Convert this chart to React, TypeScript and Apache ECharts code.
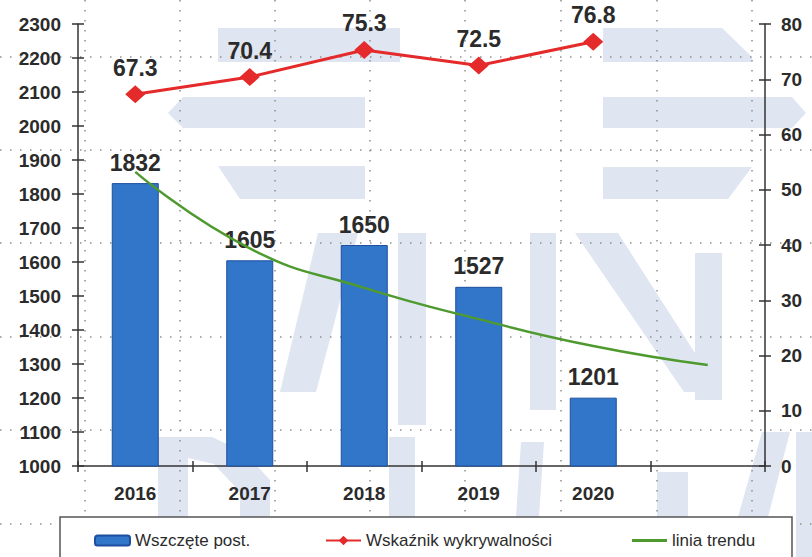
import React, { useEffect, useRef } from 'react';
import * as echarts from 'echarts';

// ---- data ----
const years = ['2016', '2017', '2018', '2019', '2020', ''];
const cases = [1832, 1605, 1650, 1527, 1201];
const detectionRate = [67.3, 70.4, 75.3, 72.5, 76.8];
const trendLine = [1865, 1640, 1524, 1432, 1353, 1297];
const seriesNames = ['Wszczęte post.', 'Wskaźnik wykrywalności', 'linia trendu'];

const FONT = '"Liberation Sans", Arial, sans-serif';
const TEXT = '#2b2b2b';
const AXIS = '#333333';

// decorative watermark shapes (background)
const watermark: number[][][] = [
  [[218, 28], [400, 28], [400, 62], [218, 62]],
  [[603, 28], [722, 28], [752, 57], [752, 62], [603, 62]],
  [[168, 113], [183, 97], [365, 97], [365, 128], [183, 128]],
  [[603, 97], [792, 97], [806, 113], [792, 128], [603, 128]],
  [[218, 166], [365, 166], [365, 199], [240, 199]],
  [[603, 167], [752, 167], [728, 199], [603, 199]],
  [[318, 233], [358, 233], [316, 392], [280, 392]],
  [[398, 233], [426, 233], [426, 425], [398, 425]],
  [[530, 233], [556, 233], [556, 410], [530, 410]],
  [[575, 233], [618, 233], [720, 392], [684, 392]],
  [[695, 253], [722, 253], [722, 400], [695, 400]],
  [[158, 437], [212, 437], [244, 452], [270, 480], [270, 517], [240, 517], [240, 492], [214, 464], [188, 458], [188, 517], [158, 517]],
  [[389, 437], [415, 437], [415, 517], [389, 517]],
  [[521, 442], [544, 442], [539, 517], [516, 517]],
  [[657, 472], [688, 472], [688, 517], [657, 517]],
  [[762, 432], [790, 432], [768, 517], [738, 517]],
  [[796, 432], [812, 432], [812, 557], [796, 557]],
];
const bgGridX = [85, 180, 275, 370, 465, 561, 657, 752];
const bgGridY = [57, 150, 243, 337, 430, 524];

export default function App() {
  const ref = useRef<HTMLDivElement>(null);

  useEffect(() => {
    if (!ref.current) return;
    const chart = echarts.init(ref.current, undefined, { renderer: 'svg' });

    const graphics: any[] = [];
    watermark.forEach((pts) =>
      graphics.push({ type: 'polygon', silent: true, z: -3, shape: { points: pts }, style: { fill: '#dfe5f1' } })
    );
    bgGridY.forEach((y) =>
      graphics.push({ type: 'line', silent: true, z: -2, shape: { x1: 0, y1: y, x2: 812, y2: y }, style: { stroke: '#8f8f8f', lineWidth: 1.5, lineDash: [1.5, 8.5] } })
    );
    bgGridX.forEach((x) =>
      graphics.push({ type: 'line', silent: true, z: -2, shape: { x1: x, y1: 0, x2: x, y2: 557 }, style: { stroke: '#8f8f8f', lineWidth: 1.5, lineDash: [1.5, 8.5] } })
    );
    graphics.push({ type: 'rect', silent: true, z: 3, shape: { x: 60, y: 517, width: 732, height: 50 }, style: { fill: '#ffffff', stroke: '#555555', lineWidth: 1.5 } });

    const axisLineStyle = { color: AXIS, width: 1.5 };
    const axisLabel = { color: TEXT, fontSize: 19, fontWeight: 'bold', fontFamily: FONT, formatter: (v: any) => String(v) };
    const leftBase = { type: 'value', min: 1000, max: 2300, interval: 100, splitLine: { show: false } };
    const rightBase = { type: 'value', min: 0, max: 80, interval: 10, splitLine: { show: false } };

    const legendCommon = {
      top: 532,
      padding: 0,
      itemWidth: 35,
      itemHeight: 10,
      itemGap: 5,
      textStyle: { fontSize: 17, color: TEXT, fontFamily: FONT },
      z: 5,
    };

    chart.setOption({
      animation: false,
      backgroundColor: '#ffffff',
      grid: { left: 78, right: 47, top: 24, bottom: 91, containLabel: false },
      graphic: graphics,
      legend: [
        { ...legendCommon, left: 94, data: [seriesNames[0]] },
        { ...legendCommon, left: 325, itemHeight: 12, data: [seriesNames[1]] },
        { ...legendCommon, left: 632, itemHeight: 3, data: [{ name: seriesNames[2], icon: 'rect' }] },
      ],
      xAxis: [
        {
          type: 'category',
          data: years,
          position: 'bottom',
          axisLine: { show: true, lineStyle: axisLineStyle },
          axisTick: { show: true, length: 6, lineStyle: axisLineStyle },
          axisLabel: { ...axisLabel, margin: 18 },
          splitLine: { show: false },
        },
        {
          type: 'category',
          data: years,
          position: 'bottom',
          axisLine: { show: false },
          axisTick: { show: true, inside: true, length: 5, lineStyle: axisLineStyle },
          axisLabel: { show: false },
          splitLine: { show: false },
        },
      ],
      yAxis: [
        {
          ...leftBase,
          position: 'left',
          axisLine: { show: true, lineStyle: axisLineStyle },
          axisTick: { show: true, length: 6, lineStyle: axisLineStyle },
          axisLabel: { ...axisLabel, margin: 17 },
        },
        {
          ...rightBase,
          position: 'right',
          axisLine: { show: true, lineStyle: axisLineStyle },
          axisTick: { show: true, length: 6, lineStyle: axisLineStyle },
          axisLabel: { ...axisLabel, margin: 16 },
        },
        {
          ...leftBase,
          position: 'left',
          axisLine: { show: false },
          axisTick: { show: true, inside: true, length: 6, lineStyle: axisLineStyle },
          axisLabel: { show: false },
        },
        {
          ...rightBase,
          position: 'right',
          axisLine: { show: false },
          axisTick: { show: true, inside: true, length: 6, lineStyle: axisLineStyle },
          axisLabel: { show: false },
        },
      ],
      series: [
        {
          name: seriesNames[0],
          type: 'bar',
          xAxisIndex: 0,
          yAxisIndex: 0,
          data: cases,
          barWidth: 47,
          itemStyle: { color: '#3176c9', borderColor: '#1d4f9e', borderWidth: 1 },
          label: {
            show: true,
            position: 'top',
            distance: 9,
            color: TEXT,
            fontSize: 23,
            fontWeight: 'bold',
            fontFamily: FONT,
          },
        },
        {
          name: seriesNames[2],
          type: 'line',
          xAxisIndex: 0,
          yAxisIndex: 0,
          data: trendLine,
          smooth: true,
          symbol: 'none',
          showSymbol: false,
          lineStyle: { color: '#4f9a2f', width: 2.5 },
          itemStyle: { color: '#4f9a2f' },
          z: 3,
        },
        {
          name: seriesNames[1],
          type: 'line',
          xAxisIndex: 0,
          yAxisIndex: 1,
          data: detectionRate,
          symbol: 'diamond',
          symbolSize: [20, 18],
          lineStyle: { color: '#e42a2a', width: 3 },
          itemStyle: { color: '#e42a2a' },
          label: {
            show: true,
            position: 'top',
            distance: 6,
            color: TEXT,
            fontSize: 23,
            fontWeight: 'bold',
            fontFamily: FONT,
          },
          z: 4,
        },
      ],
    });

    return () => chart.dispose();
  }, []);

  return (
    <div
      ref={ref}
      style={{ position: 'absolute', left: 0, top: 0, width: 812, height: 557 }}
    />
  );
}
